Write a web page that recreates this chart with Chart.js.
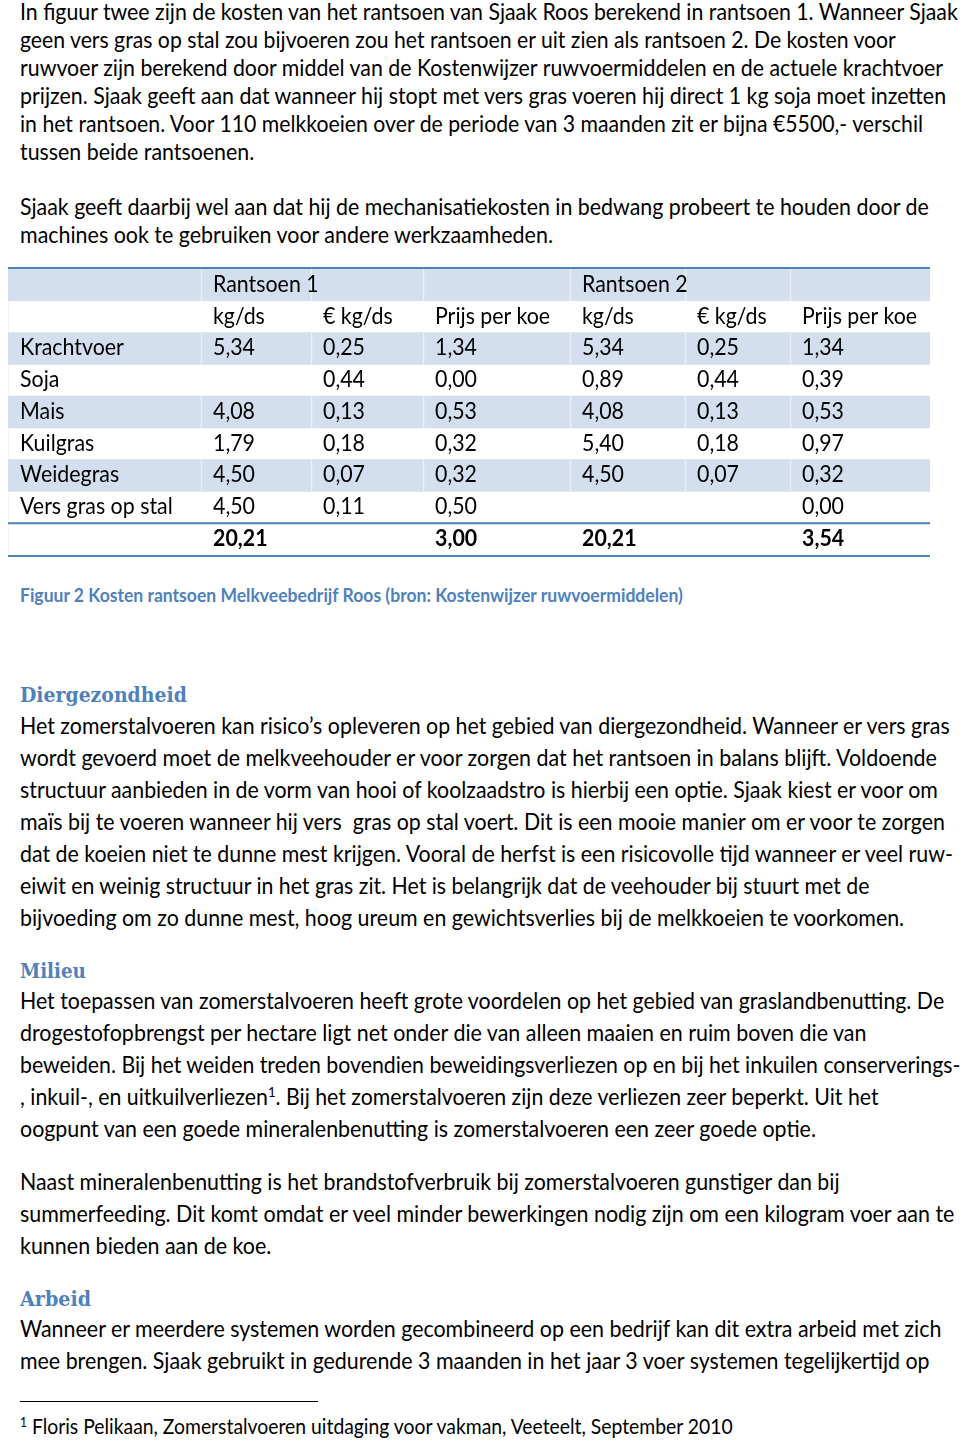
<!DOCTYPE html>
<html>
<head>
<meta charset="utf-8">
<script src="https://cdn.jsdelivr.net/npm/chart.js@4.4.1/dist/chart.umd.min.js"></script>
<style>
  html, body { margin: 0; padding: 0; background: #fff; }
  body { width: 960px; height: 1441px; position: relative; overflow: hidden; font-family: Lato, "Noto Sans", sans-serif; color: #000; }
  .blk { position: absolute; left: 20px; }
  .ln { white-space: pre; width: max-content; transform-origin: 0 50%; }
  .body { font-size: 23px; }
  .lh28 { line-height: 28px; }
  .lh32 { line-height: 32px; }
  .first { line-height: 22px; margin-bottom: 3px; }
  .head { font-family: "DejaVu Serif", serif; font-weight: bold; font-size: 21px; line-height: 28px; color: #4f81bd; }
  .caption { font-weight: bold; font-size: 18.5px; line-height: 24px; color: #4f81bd; }
  .foot { font-size: 20.5px; line-height: 26px; }
  sup { font-size: 62%; line-height: 0; vertical-align: 0.55em; }
  #tableWrap { position: absolute; left: 8px; top: 266px; width: 922px; height: 292px; }
  #bands { position: absolute; left: 0; top: 0; }
  #cells { position: absolute; left: 0; top: 1px; width: 922px; border-collapse: collapse; table-layout: fixed; font-size: 23px; }
  #cells td { padding: 0; height: calc(286px / 9); vertical-align: middle; white-space: nowrap; overflow: visible; }
  #cells td span { display: inline-block; transform-origin: 0 50%; }
  #cells tr.total td { font-weight: bold; }
  #rule { position: absolute; left: 20px; top: 1401px; width: 298px; height: 1px; background: #000; }
</style>
</head>
<body>

<!-- table data -->
<script>
const rowNames = ['Krachtvoer', 'Soja', 'Mais', 'Kuilgras', 'Weidegras', 'Vers gras op stal'];
const groupLabels = ['Rantsoen 1', 'Rantsoen 2'];
const columnLabels = ['kg/ds', '€ kg/ds', 'Prijs per koe'];

const r1KgDs = [5.34, null, 4.08, 1.79, 4.50, 4.50];
const r1PriceKgDs = [0.25, 0.44, 0.13, 0.18, 0.07, 0.11];
const r1PerCow = [1.34, 0.00, 0.53, 0.32, 0.32, 0.50];

const r2KgDs = [5.34, 0.89, 4.08, 5.40, 4.50, null];
const r2PriceKgDs = [0.25, 0.44, 0.13, 0.18, 0.07, null];
const r2PerCow = [1.34, 0.39, 0.53, 0.97, 0.32, 0.00];

const totalKgDs = [20.21, 20.21];
const totalPerCow = [3.00, 3.54];
</script>

<div class="blk body lh28" style="top:0px">
  <div class="ln first" data-w="938">In figuur twee zijn de kosten van het rantsoen van Sjaak Roos berekend in rantsoen 1. Wanneer Sjaak</div>
  <div class="ln" data-w="876">geen vers gras op stal zou bijvoeren zou het rantsoen er uit zien als rantsoen 2. De kosten voor</div>
  <div class="ln" data-w="923">ruwvoer zijn berekend door middel van de Kostenwijzer ruwvoermiddelen en de actuele krachtvoer</div>
  <div class="ln" data-w="926">prijzen. Sjaak geeft aan dat wanneer hij stopt met vers gras voeren hij direct 1 kg soja moet inzetten</div>
  <div class="ln" data-w="903">in het rantsoen. Voor 110 melkkoeien over de periode van 3 maanden zit er bijna €5500,- verschil</div>
  <div class="ln" data-w="234">tussen beide rantsoenen.</div>
</div>

<div class="blk body lh28" style="top:192px">
  <div class="ln" data-w="909">Sjaak geeft daarbij wel aan dat hij de mechanisatiekosten in bedwang probeert te houden door de</div>
  <div class="ln" data-w="533">machines ook te gebruiken voor andere werkzaamheden.</div>
</div>

<div id="tableWrap">
  <canvas id="bands" width="922" height="292"></canvas>
  <table id="cells"></table>
</div>

<div class="blk caption" style="top:583px">
  <div class="ln" data-w="663">Figuur 2 Kosten rantsoen Melkveebedrijf Roos (bron: Kostenwijzer ruwvoermiddelen)</div>
</div>

<div class="blk head" style="top:681px"><div class="ln" data-w="167">Diergezondheid</div></div>
<div class="blk body lh32" style="top:709px">
  <div class="ln" data-w="930">Het zomerstalvoeren kan risico’s opleveren op het gebied van diergezondheid. Wanneer er vers gras</div>
  <div class="ln" data-w="917">wordt gevoerd moet de melkveehouder er voor zorgen dat het rantsoen in balans blijft. Voldoende</div>
  <div class="ln" data-w="918">structuur aanbieden in de vorm van hooi of koolzaadstro is hierbij een optie. Sjaak kiest er voor om</div>
  <div class="ln" data-w="925">maïs bij te voeren wanneer hij vers  gras op stal voert. Dit is een mooie manier om er voor te zorgen</div>
  <div class="ln" data-w="933">dat de koeien niet te dunne mest krijgen. Vooral de herfst is een risicovolle tijd wanneer er veel ruw-</div>
  <div class="ln" data-w="849">eiwit en weinig structuur in het gras zit. Het is belangrijk dat de veehouder bij stuurt met de</div>
  <div class="ln" data-w="884">bijvoeding om zo dunne mest, hoog ureum en gewichtsverlies bij de melkkoeien te voorkomen.</div>
</div>

<div class="blk head" style="top:957px"><div class="ln" data-w="66">Milieu</div></div>
<div class="blk body lh32" style="top:984px">
  <div class="ln" data-w="924">Het toepassen van zomerstalvoeren heeft grote voordelen op het gebied van graslandbenutting. De</div>
  <div class="ln" data-w="846">drogestofopbrengst per hectare ligt net onder die van alleen maaien en ruim boven die van</div>
  <div class="ln" data-w="940">beweiden. Bij het weiden treden bovendien beweidingsverliezen op en bij het inkuilen conserverings-</div>
  <div class="ln" data-w="859">, inkuil-, en uitkuilverliezen<sup>1</sup>. Bij het zomerstalvoeren zijn deze verliezen zeer beperkt. Uit het</div>
  <div class="ln" data-w="796">oogpunt van een goede mineralenbenutting is zomerstalvoeren een zeer goede optie.</div>
</div>

<div class="blk body lh32" style="top:1165px">
  <div class="ln" data-w="820">Naast mineralenbenutting is het brandstofverbruik bij zomerstalvoeren gunstiger dan bij</div>
  <div class="ln" data-w="934">summerfeeding. Dit komt omdat er veel minder bewerkingen nodig zijn om een kilogram voer aan te</div>
  <div class="ln" data-w="251">kunnen bieden aan de koe.</div>
</div>

<div class="blk head" style="top:1285px"><div class="ln" data-w="71">Arbeid</div></div>
<div class="blk body lh32" style="top:1312px">
  <div class="ln" data-w="921">Wanneer er meerdere systemen worden gecombineerd op een bedrijf kan dit extra arbeid met zich</div>
  <div class="ln" data-w="910">mee brengen. Sjaak gebruikt in gedurende 3 maanden in het jaar 3 voer systemen tegelijkertijd op</div>
</div>

<div id="rule"></div>
<div class="blk foot" style="top:1413px">
  <div class="ln" data-w="713"><sup>1</sup> Floris Pelikaan, Zomerstalvoeren uitdaging voor vakman, Veeteelt, September 2010</div>
</div>

<script>
// layout of the table (pixels), not data
const colWidths = [193, 110, 112, 147, 115, 105, 140];
const colPad = [12, 12, 12, 12, 12, 12, 12];
const tableWidth = colWidths.reduce((a, b) => a + b, 0);
const bandColor = '#d3dfee';
const ruleColor = '#4f81bd';

const fmt = v => (v === null || v === undefined) ? '' : v.toFixed(2).replace('.', ',');

// rows of the table, as text
const rows = [];
rows.push({ cls: '', cells: ['', groupLabels[0], '', '', groupLabels[1], '', ''] });
rows.push({ cls: '', cells: ['', ...columnLabels, ...columnLabels] });
rowNames.forEach((name, i) => {
    rows.push({ cls: '', cells: [name, fmt(r1KgDs[i]), fmt(r1PriceKgDs[i]), fmt(r1PerCow[i]),
        fmt(r2KgDs[i]), fmt(r2PriceKgDs[i]), fmt(r2PerCow[i])] });
});
rows.push({ cls: 'total', cells: ['', fmt(totalKgDs[0]), '', fmt(totalPerCow[0]), fmt(totalKgDs[1]), '', fmt(totalPerCow[1])] });

const table = document.getElementById('cells');
const colgroup = document.createElement('colgroup');
colWidths.forEach(w => {
    const c = document.createElement('col');
    c.style.width = w + 'px';
    colgroup.appendChild(c);
});
table.appendChild(colgroup);
rows.forEach(r => {
    const tr = document.createElement('tr');
    if (r.cls) tr.className = r.cls;
    r.cells.forEach((txt, c) => {
        const td = document.createElement('td');
        td.style.paddingLeft = colPad[c] + 'px';
        if (txt) {
            const s = document.createElement('span');
            s.textContent = txt;
            td.appendChild(s);
        }
        tr.appendChild(td);
    });
    table.appendChild(tr);
});

// banded rows: every other row up to the total row
const rowKeys = rows.map((r, i) => 'row' + i);
const bandValues = rows.map((r, i) => (i % 2 === 0 && r.cls !== 'total') ? tableWidth : 0);

// rules and column separators drawn from the chart scales
const tableRules = {
    id: 'tableRules',
    afterDatasetsDraw(chart) {
        const { ctx, scales: { x, y } } = chart;
        const n = rowKeys.length;
        const half = (y.getPixelForValue(1) - y.getPixelForValue(0)) / 2;
        const left = x.getPixelForValue(0);
        const right = x.getPixelForValue(tableWidth);
        ctx.save();
        // faint white column separators on the bands
        ctx.strokeStyle = 'rgba(255,255,255,0.55)';
        ctx.lineWidth = 1.5;
        let edge = 0;
        colWidths.slice(0, -1).forEach(w => {
            edge += w;
            const px = Math.round(x.getPixelForValue(edge)) + 0.5;
            bandValues.forEach((v, i) => {
                if (!v) return;
                const cy = y.getPixelForValue(i);
                ctx.beginPath();
                ctx.moveTo(px, cy - half);
                ctx.lineTo(px, cy + half);
                ctx.stroke();
            });
        });
        // blue rules: top, above total, bottom
        ctx.strokeStyle = ruleColor;
        ctx.lineWidth = 2;
        const lines = [
            y.getPixelForValue(0) - half - 1,
            y.getPixelForValue(n - 1) - half,
            y.getPixelForValue(n - 1) + half + 1
        ];
        lines.forEach(py => {
            ctx.beginPath();
            ctx.moveTo(left, py);
            ctx.lineTo(right, py);
            ctx.stroke();
        });
        ctx.restore();
    }
};

new Chart(document.getElementById('bands'), {
    type: 'bar',
    data: {
        labels: rowKeys,
        datasets: [{
            data: bandValues,
            backgroundColor: bandColor,
            borderWidth: 0,
            barPercentage: 1,
            categoryPercentage: 1
        }]
    },
    options: {
        indexAxis: 'y',
        responsive: false,
        animation: false,
        events: [],
        layout: { padding: { top: 3, bottom: 3, left: 0, right: 0 } },
        plugins: { legend: { display: false }, tooltip: { enabled: false } },
        scales: {
            x: { display: false, min: 0, max: tableWidth },
            y: { display: false }
        }
    },
    plugins: [tableRules]
});

// squeeze lines horizontally to the widths of the original
function fitLines() {
    const ratios = [];
    document.querySelectorAll('[data-w]').forEach(el => {
        el.style.transform = '';
        const w = el.offsetWidth;
        const k = parseFloat(el.dataset.w) / w;
        el.style.transform = 'scaleX(' + k + ')';
        if (el.closest('.body')) ratios.push(k);
    });
    ratios.sort((a, b) => a - b);
    const k = ratios[Math.floor(ratios.length / 2)] || 1;
    document.querySelectorAll('#cells td span').forEach(s => {
        s.style.transform = 'scaleX(' + k + ')';
    });
}
fitLines();
if (document.fonts && document.fonts.ready) document.fonts.ready.then(fitLines);
</script>
</body>
</html>
